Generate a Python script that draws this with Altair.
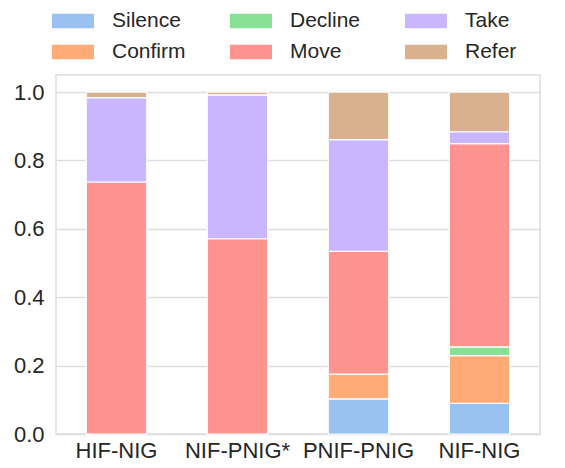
import altair as alt
import pandas as pd

groups = ["HIF-NIG", "NIF-PNIG*", "PNIF-PNIG", "NIF-NIG"]
categories = ["Silence", "Confirm", "Decline", "Move", "Take", "Refer"]
colors = ["#99c2f0", "#ffab77", "#88e097", "#ff938f", "#cab6ff", "#d9b18f"]

silence = [0.0, 0.0, 0.103, 0.090]
confirm = [0.0, 0.0, 0.072, 0.139]
decline = [0.0, 0.0, 0.0, 0.026]
move = [0.737, 0.571, 0.359, 0.594]
take = [0.247, 0.421, 0.327, 0.035]
refer = [0.016, 0.008, 0.139, 0.116]

series = [silence, confirm, decline, move, take, refer]
rows = []
for ci, (cat, vals) in enumerate(zip(categories, series)):
    for g, v in zip(groups, vals):
        rows.append({"group": g, "category": cat, "value": v, "order": ci})
df = pd.DataFrame(rows)

chart = alt.Chart(df).mark_bar(stroke="white", strokeWidth=1.2).encode(
    x=alt.X("group:N", sort=groups, title=None,
            scale=alt.Scale(paddingInner=0.5, paddingOuter=0.25),
            axis=alt.Axis(labelAngle=0, bandPosition=0.5, ticks=False,
                          labelPadding=6, domain=False)),
    y=alt.Y("value:Q", stack="zero", title=None,
            scale=alt.Scale(domain=[0, 1.05], nice=False, zero=True),
            axis=alt.Axis(values=[0, 0.2, 0.4, 0.6, 0.8, 1.0], format=".1f",
                          ticks=False, labelPadding=12, domain=False)),
    color=alt.Color("category:N",
                    scale=alt.Scale(domain=categories, range=colors),
                    legend=alt.Legend(
                        title=None, orient="none", legendX=-4, legendY=-75,
                        columns=3, columnPadding=44, rowPadding=-2,
                        symbolType="M-1,-0.34L1,-0.34L1,0.34L-1,0.34Z",
                        symbolSize=1764, symbolStrokeWidth=0,
                        labelOffset=18, labelFontSize=21, labelColor="#262626",
                        labelFont="Liberation Sans", padding=0)),
    order=alt.Order("order:Q", sort="ascending"),
).properties(
    width=484, height=359,
    autosize=alt.AutoSizeParams(type="none"),
    padding={"left": 48, "top": 67, "right": 17, "bottom": 34},
).configure_view(
    stroke="#dddddd", strokeWidth=1.5
).configure_axis(
    gridColor="#dddddd", gridWidth=1.5,
    labelFont="Liberation Sans", labelFontSize=22, labelColor="#262626",
)

chart.save("out.html", embed_options={"renderer": "svg", "actions": False})
